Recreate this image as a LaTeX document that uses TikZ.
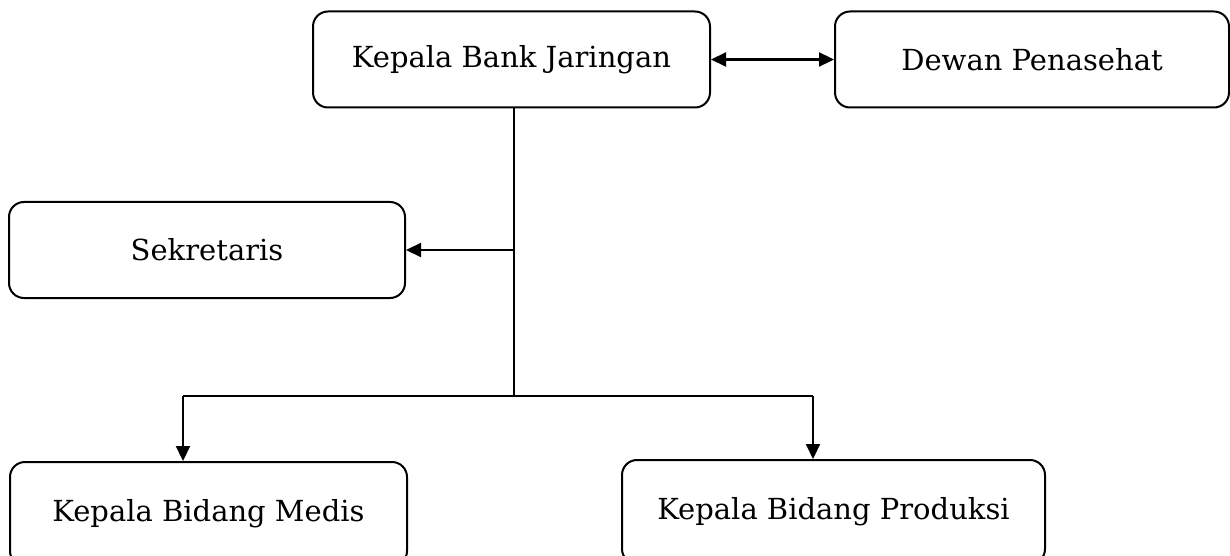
\documentclass[tikz,border=0pt]{standalone}
\usepackage{fontspec}
\setmainfont{DejaVu Serif}
\usetikzlibrary{arrows.meta}
\begin{document}
\begin{tikzpicture}[x=1pt,y=1pt,
  box/.style={draw, line width=2pt, rounded corners=15pt, inner sep=0pt,
    minimum height=96pt, font=\fontsize{29}{34}\selectfont},
  conn/.style={line width=2.2pt},
  tri/.tip={Triangle[length=15pt,width=14pt]},
  tip/.style={-tri}]
\useasboundingbox (0,0) rectangle (1230,555);
\node[box, minimum width=397pt] (kbj) at (511.5,495.5) {Kepala Bank Jaringan};
\node[box, minimum width=394pt] (dp) at (1032,495.5) {Dewan Penasehat};
\node[box, minimum width=396pt] (sek) at (207,305) {Sekretaris};
\node[box, minimum width=397pt, minimum height=104pt] (med) at (208.5,41) {Kepala Bidang Medis};
\node[box, minimum width=423pt, minimum height=104pt] (prod) at (833.5,43) {Kepala Bidang Produksi};
\coordinate (j) at (514,159);
\coordinate (la) at (183,159);
\coordinate (ra) at (813,159);
\draw[conn, tri-tri] (kbj.east) -- (dp.west);
\draw[conn] (kbj.south -| j) -- (j);
\draw[conn, tip] (sek.east -| j) -- (sek.east);
\draw[conn] (la) -- (ra);
\draw[conn, tip] (la) -- (med.north -| la);
\draw[conn, tip] (ra) -- (prod.north -| ra);
\end{tikzpicture}
\end{document}
